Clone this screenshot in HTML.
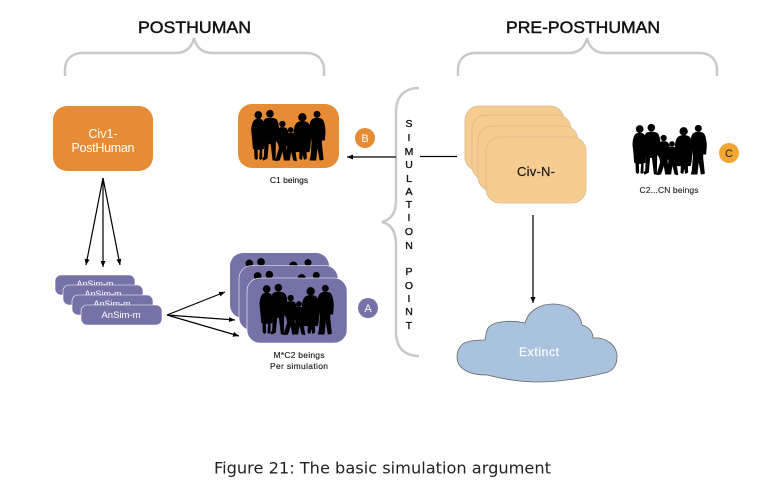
<!DOCTYPE html>
<html>
<head>
<meta charset="utf-8">
<style>
html,body{margin:0;padding:0;background:#fff;width:763px;height:504px;overflow:hidden}
svg{display:block}
text{font-family:"Liberation Sans",sans-serif;text-anchor:middle}
</style>
</head>
<body>
<svg width="763" height="504" viewBox="0 0 763 504" xmlns="http://www.w3.org/2000/svg">
<defs>
<marker id="a" markerUnits="userSpaceOnUse" markerWidth="8" markerHeight="8" refX="6" refY="2.500" orient="auto"><path d="M0 0L6 2.500L0 5Z" fill="#000"/></marker>
<g id="p" fill="#000" stroke="#000" stroke-width="3" stroke-linejoin="round" transform="scale(.3333)">
<circle cx="20" cy="15" r="10"/>
<path d="M10 30Q20 24 30 30Q38 34 40 60L38 90L36 115L30 118L30 145L27 148L24 146L26 118L16 118L17 145L14 148L10 145L9 118L5 115L3 90L0 62Q1 36 10 30Z"/>
<circle cx="55" cy="11" r="10"/>
<path d="M42 27Q55 22 70 27Q78 30 80 50L80 85L74 85L72 60L71 100L70 150L64 150L58 100L50 100L46 145L35 150L33 146L38 140L40 100L40 85L36 85L35 50Q36 30 42 27Z"/>
<circle cx="92" cy="42" r="8"/>
<path d="M82 55Q92 51 102 55Q110 60 110 85L106 100L102 100L103 115L108 150L98 150L93 120L83 150L72 152L83 115L80 100L72 90L76 60Z"/>
<circle cx="117" cy="60" r="7"/>
<path d="M107 72Q117 68 128 72L135 105L130 105L128 110L134 152L126 150L118 118L113 150L103 150L108 110L105 105L102 100Z"/>
<circle cx="152" cy="22" r="11"/>
<path d="M140 37Q152 32 165 37Q176 42 177 70L175 110L172 125L163 125L164 145L158 148L153 125L150 148L144 146L145 125L132 125L128 100L127 70Q128 42 140 37Z"/>
<circle cx="196" cy="13" r="9"/>
<path d="M185 27Q196 22 208 27Q218 30 220 65L218 90L212 90L210 70L209 100L214 148L205 150L197 105L192 150L175 150L178 140L181 100L178 70L175 60L175 45Q177 30 185 27Z"/>
</g>
</defs>

<!-- headings -->
<text x="194.500" y="33" font-size="16.500" fill="#111" stroke="#111" stroke-width=".45" textLength="113" lengthAdjust="spacingAndGlyphs">POSTHUMAN</text>
<text x="583" y="33" font-size="16.500" fill="#111" stroke="#111" stroke-width=".45" textLength="154" lengthAdjust="spacingAndGlyphs">PRE-POSTHUMAN</text>

<!-- braces -->
<g fill="none" stroke="#c9c9c9" stroke-width="2.500">
<path d="M65 76V70C65 59 72 53 83 53H176C186 53 192 47 194 38C196 47 202 53 212 53H306C317 53 324 59 324 70V76"/>
<path d="M458 76V70C458 59 465 53 476 53H569C579 53 585 47 587 38C589 47 595 53 605 53H699C710 53 717 59 717 70V76"/>
<path d="M419 88C405 88 396 96 396 112V200C396 214 390 220 382 222C390 224 396 230 396 244V332C396 348 405 356 419 356"/>
</g>

<!-- Civ1 -->
<rect x="53" y="106" width="100" height="65" rx="14" fill="#e68c36"/>
<text x="103" y="138" font-size="12.500" fill="#fff">Civ1-</text>
<text x="103" y="152" font-size="12.500" fill="#fff" textLength="63">PostHuman</text>

<!-- C1 -->
<rect x="238" y="104" width="101" height="64" rx="14" fill="#e68c36"/>
<use href="#p" x="251.700" y="110"/>
<text x="289" y="183" font-size="8.500" fill="#111" stroke="#111" stroke-width=".12">C1 beings</text>
<circle cx="365" cy="138" r="10" fill="#e68c36"/>
<text x="365" y="142" font-size="11" fill="#fff">B</text>

<!-- arrows -->
<g stroke="#000" stroke-width="1.200" fill="none">
<path d="M103 178L86 265" marker-end="url(#a)"/>
<path d="M103 178V267" marker-end="url(#a)"/>
<path d="M103 178L120 265" marker-end="url(#a)"/>
<path d="M167 315L225 292" marker-end="url(#a)"/>
<path d="M167 315L235 320" marker-end="url(#a)"/>
<path d="M167 315L239 336" marker-end="url(#a)"/>
<path d="M396 157H347" marker-end="url(#a)"/>
<path d="M420 156.500H457"/>
<path d="M533 215V303" marker-end="url(#a)"/>
</g>

<!-- AnSim -->
<rect x="55" y="275" width="80" height="20" rx="6" fill="#7572a8" stroke="#fff" stroke-width=".6"/>
<text x="95" y="287" font-size="9" fill="#fff">AnSim-m</text>
<rect x="63" y="285" width="80" height="20" rx="6" fill="#7572a8" stroke="#fff" stroke-width=".6"/>
<text x="103" y="297" font-size="9" fill="#fff">AnSim-m</text>
<rect x="72" y="295" width="81" height="20" rx="6" fill="#7572a8" stroke="#fff" stroke-width=".6"/>
<text x="112" y="307" font-size="9" fill="#fff">AnSim-m</text>
<rect x="81" y="305" width="81" height="20" rx="6" fill="#7572a8" stroke="#fff" stroke-width=".6"/>
<text x="121" y="318" font-size="9.500" fill="#fff">AnSim-m</text>

<!-- M*C2 cards -->
<rect x="230" y="253" width="99" height="65" rx="13" fill="#7572a8"/>
<use href="#p" x="242.700" y="258.300"/>
<rect x="239" y="265.500" width="99" height="65" rx="13" fill="#7572a8" stroke="#fff" stroke-width=".6"/>
<use href="#p" x="251" y="271"/>
<rect x="247" y="278" width="100" height="65" rx="13" fill="#7572a8" stroke="#fff" stroke-width=".6"/>
<use href="#p" x="260" y="284"/>
<circle cx="368" cy="308" r="10" fill="#7572a8"/>
<text x="368" y="312" font-size="11" fill="#fff">A</text>
<text x="299" y="358" font-size="8.500" fill="#111" stroke="#111" stroke-width=".12" textLength="51">M*C2 beings</text>
<text x="299" y="369" font-size="8.500" fill="#111" stroke="#111" stroke-width=".12" textLength="58">Per simulation</text>

<!-- Simulation point -->
<g font-size="10.500" fill="#111" stroke="#111" stroke-width=".35">
<text x="409" y="127">S</text>
<text x="409" y="141">I</text>
<text x="409" y="155">M</text>
<text x="409" y="168">U</text>
<text x="409" y="182">L</text>
<text x="409" y="195">A</text>
<text x="409" y="208">T</text>
<text x="409" y="221">I</text>
<text x="409" y="235">O</text>
<text x="409" y="249">N</text>
<text x="409" y="275">P</text>
<text x="409" y="289">O</text>
<text x="409" y="302">I</text>
<text x="409" y="315">N</text>
<text x="409" y="329">T</text>
</g>

<!-- Civ-N -->
<g fill="#f6cd90" stroke="#d9b98a" stroke-width=".8">
<rect x="465" y="106" width="99" height="65" rx="14"/>
<rect x="472" y="115" width="99" height="65" rx="14"/>
<rect x="478" y="126" width="100" height="65" rx="14"/>
<rect x="486" y="137" width="100" height="66" rx="14"/>
</g>
<text x="536" y="176" font-size="13" fill="#222" stroke="#222" stroke-width=".25" textLength="38">Civ-N-</text>

<!-- C2..CN -->
<use href="#p" x="633" y="124"/>
<text x="669" y="193" font-size="8.500" fill="#222" stroke="#222" stroke-width=".12" textLength="59">C2...CN beings</text>
<circle cx="729" cy="153" r="10" fill="#f0a535"/>
<text x="729" y="157" font-size="11" fill="#222">C</text>

<!-- Extinct cloud -->
<path d="M525 323C528 311 540 304 553 304C568 304 580 312 582 325C589 327 593 332 593 338C606 337 617 345 617 357C617 366 612 372 604 373C585 378 560 382 537 382C520 382 503 379 487 375C468 375 457 368 457 357C457 349 462 343 467 342C473 340 479 340 485 340C486 333 487 328 490 326C496 321 512 320 525 323Z" fill="#a9c3de" stroke="#666" stroke-width=".8"/>
<text x="539" y="356" font-size="12" fill="#fff" stroke="#fff" stroke-width=".15" textLength="40">Extinct</text>

<!-- caption -->
<text x="382.500" y="473.500" font-size="16" fill="#222" style="font-family:'DejaVu Sans',sans-serif" textLength="337" lengthAdjust="spacingAndGlyphs">Figure 21: The basic simulation argument</text>
</svg>
</body>
</html>
